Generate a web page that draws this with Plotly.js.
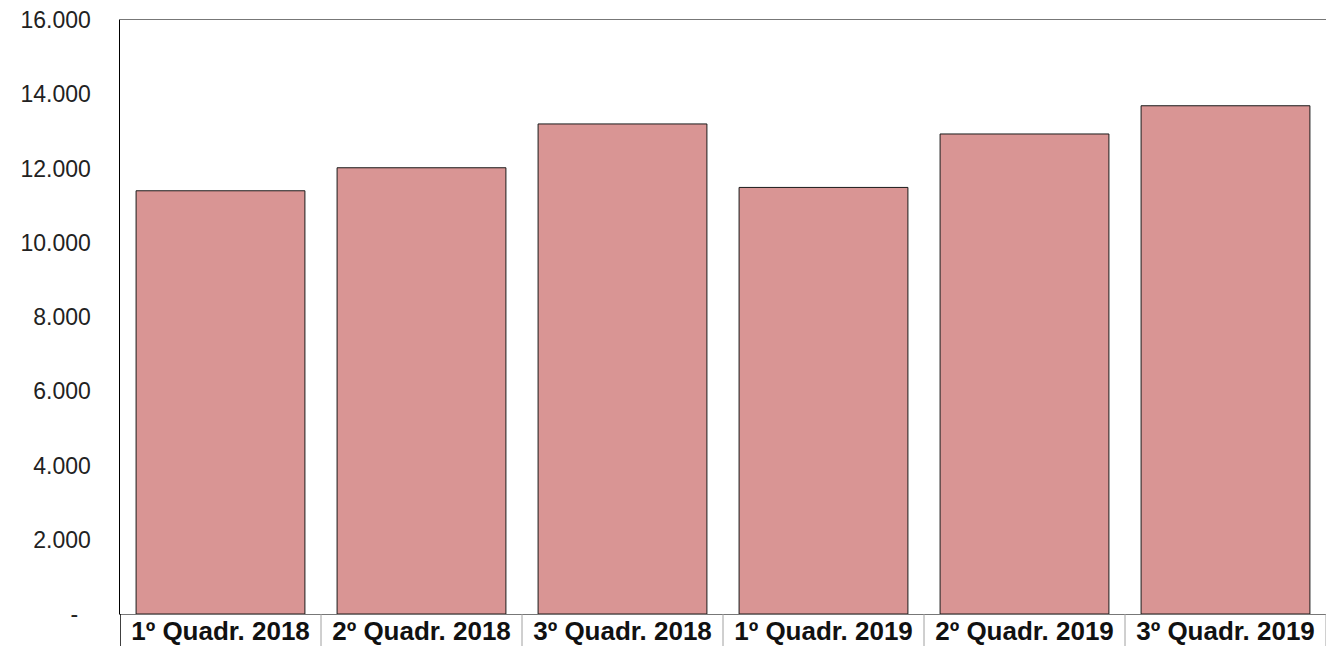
<!DOCTYPE html>
<html>
<head>
<meta charset="utf-8">
<script src="https://cdn.plot.ly/plotly-3.0.1.min.js"></script>
<style>
  body { margin: 0; background: #fff; }
  #chart { width: 1327px; height: 646px; }
</style>
</head>
<body>
<div id="chart"></div>
<script>
// categories on the x axis
let quadrimestres = ["1º Quadr. 2018", "2º Quadr. 2018", "3º Quadr. 2018",
                     "1º Quadr. 2019", "2º Quadr. 2019", "3º Quadr. 2019"];

// values
let valores = [11400, 12020, 13200, 11490, 12930, 13690];

// y axis ticks (zero shown as an accounting dash)
let yTicks = [0, 2000, 4000, 6000, 8000, 10000, 12000, 14000, 16000];
let yTickText = ["-\u00a0\u00a0", "2.000", "4.000", "6.000", "8.000", "10.000", "12.000", "14.000", "16.000"];

let trace1 = {
    x: quadrimestres,
    y: valores,
    type: "bar",
    marker: { color: "#D99594", line: { color: "#1a1a1a", width: 1 } },
    hoverinfo: "none"
};

// separator lines under the plot, between the category labels
let shapes = [];
for (let i = 0; i <= quadrimestres.length; i++) {
    shapes.push({
        type: "line", xref: "x", yref: "paper",
        x0: i - 0.5, x1: i - 0.5, y0: -0.054, y1: 0,
        line: { color: i === 0 ? "#000" : "#a0a0a0", width: i === 0 ? 1.5 : 1 }
    });
}

var layout = {
    width: 1327,
    height: 646,
    margin: { l: 120, r: 1, t: 20, b: 32 },
    paper_bgcolor: "#fff",
    plot_bgcolor: "#fff",
    showlegend: false,
    bargap: 0.16,
    font: { family: "Liberation Sans, Arial, sans-serif", size: 23, color: "#222" },
    xaxis: {
        type: "category",
        range: [-0.5, 5.5],
        showline: true,
        mirror: true,
        linecolor: "#777",
        linewidth: 1,
        ticks: "",
        showgrid: false,
        automargin: false,
        ticklabelstandoff: -6,
        tickfont: { family: "Liberation Sans, Arial, sans-serif", size: 26, color: "#111", weight: "bold" }
    },
    yaxis: {
        range: [0, 16000],
        tickvals: yTicks,
        ticktext: yTickText,
        showgrid: false,
        zeroline: false,
        showline: true,
        linecolor: "#000",
        linewidth: 1.5,
        ticks: "",
        automargin: false,
        ticklabelstandoff: 23
    },
    shapes: shapes
};

Plotly.newPlot("chart", [trace1], layout, { displayModeBar: false, staticPlot: true });
</script>
</body>
</html>
